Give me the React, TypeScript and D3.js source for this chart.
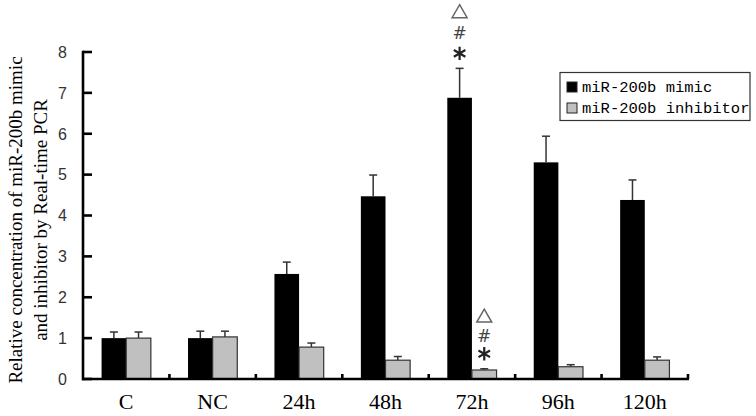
import React from 'react';
import * as d3 from 'd3';

const categories = ['C', 'NC', '24h', '48h', '72h', '96h', '120h'];
const mimic = [1.0, 1.0, 2.57, 4.47, 6.88, 5.3, 4.38];
const mimicErr = [0.15, 0.17, 0.29, 0.52, 0.72, 0.64, 0.49];
const inhibitor = [1.0, 1.03, 0.78, 0.46, 0.22, 0.3, 0.46];
const inhibitorErr = [0.15, 0.14, 0.1, 0.09, 0.03, 0.05, 0.08];
const yTicks = [0, 1, 2, 3, 4, 5, 6, 7, 8];
const seriesNames = ['miR-200b mimic', 'miR-200b inhibitor'];
const annotations = [
  { cat: '72h', series: 0 },
  { cat: '72h', series: 1 },
];

const W = 756;
const H = 416;

export default function App() {
  const x = d3.scaleBand<string>().domain(categories).range([83, 688]).paddingInner(0).paddingOuter(0);
  const y = d3.scaleLinear().domain([0, 8]).range([379, 52]);
  const bw = x.bandwidth() * 0.285;
  const colors = ['#000000', '#c0c0c0'];
  const series = [
    { vals: mimic, errs: mimicErr },
    { vals: inhibitor, errs: inhibitorErr },
  ];
  const tri = d3.symbol().type(d3.symbolTriangle2).size(160)()!;
  const ast = d3.symbol().type(d3.symbolAsterisk).size(125)()!;

  const barX = (i: number, s: number) => {
    const c = (x(categories[i]) as number) + x.bandwidth() / 2;
    return s === 0 ? c - bw : c;
  };

  return (
    <svg width={W} height={H} style={{ position: 'absolute', left: 0, top: 0, background: '#fff' }}>
      <rect x={0} y={0} width={W} height={H} fill="#fff" />
      {series.map((sr, s) =>
        sr.vals.map((v, i) => {
          const bx = barX(i, s);
          const top = y(v);
          const et = y(v + sr.errs[i]);
          const cx = bx + bw / 2;
          return (
            <g key={`${s}-${i}`}>
              <line x1={cx} x2={cx} y1={top} y2={et} stroke="#333" strokeWidth={1.5} />
              <line x1={cx - 4} x2={cx + 4} y1={et} y2={et} stroke="#333" strokeWidth={1.5} />
              <rect
                x={bx}
                y={top}
                width={bw}
                height={y(0) - top}
                fill={colors[s]}
                stroke={s === 0 ? '#000' : '#333'}
                strokeWidth={s === 0 ? 0 : 1.2}
              />
            </g>
          );
        })
      )}
      {annotations.map((a, k) => {
        const i = categories.indexOf(a.cat);
        const sr = series[a.series];
        const cx = barX(i, a.series) + bw / 2;
        const et = y(sr.vals[i] + sr.errs[i]);
        const gap = a.series === 0 ? 20 : 18;
        const aY = et - 15;
        return (
          <g key={`ann-${k}`}>
            <path d={ast} transform={`translate(${cx},${aY})`} stroke="#222" strokeWidth={2.2} fill="none" />
            <text
              x={cx}
              y={aY - gap}
              dy="0.36em"
              textAnchor="middle"
              fontFamily="DejaVu Sans"
              fontSize={17}
              fill="#444"
            >
              #
            </text>
            <path d={tri} transform={`translate(${cx},${aY - 2 * gap})`} stroke="#666" strokeWidth={1.5} fill="none" />
          </g>
        );
      })}
      <line x1={83} x2={83} y1={y(8) - 1.2} y2={y(0) + 1.2} stroke="#000" strokeWidth={2.6} />
      {yTicks.map((t) => (
        <g key={`yt-${t}`}>
          <line x1={83} x2={92} y1={y(t)} y2={y(t)} stroke="#000" strokeWidth={2.6} />
          <text
            x={67}
            y={y(t)}
            dy="0.36em"
            textAnchor="end"
            fontFamily="Liberation Sans, Arial, sans-serif"
            fontSize={16}
            fill="#333"
          >
            {t}
          </text>
        </g>
      ))}
      <line x1={82} x2={689} y1={y(0)} y2={y(0)} stroke="#000" strokeWidth={2.6} />
      {categories.map((c, i) => (
        <g key={`xt-${c}`}>
          {i > 0 && (
            <line x1={x(c)} x2={x(c)} y1={y(0)} y2={y(0) - 5} stroke="#000" strokeWidth={2.6} />
          )}
          <text
            x={(x(c) as number) + x.bandwidth() / 2}
            y={409}
            textAnchor="middle"
            fontFamily="Liberation Serif, Times New Roman, serif"
            fontSize={22}
            fill="#000"
          >
            {c}
          </text>
        </g>
      ))}
      <line x1={688} x2={688} y1={y(0)} y2={y(0) - 5} stroke="#000" strokeWidth={2.6} />
      <g transform="translate(22,220) rotate(-90)">
        <text x={0} y={0} textAnchor="middle" fontFamily="Liberation Serif, Times New Roman, serif" fontSize={19} fill="#000">
          Relative concentration of miR-200b mimic
        </text>
        <text x={0} y={25} textAnchor="middle" fontFamily="Liberation Serif, Times New Roman, serif" fontSize={19} fill="#000">
          and inhibitor by Real-time PCR
        </text>
      </g>
      <rect x={560} y={72.5} width={190} height={48} fill="#fff" stroke="#333" strokeWidth={1.2} />
      {seriesNames.map((n, k) => (
        <g key={`lg-${k}`}>
          <rect x={567} y={82 + k * 21} width={10} height={10} fill={colors[k]} stroke="#222" strokeWidth={1} />
          <text x={582} y={92 + k * 21} fontFamily="Liberation Mono, monospace" fontSize={15.5} fill="#000">
            {n}
          </text>
        </g>
      ))}
    </svg>
  );
}
